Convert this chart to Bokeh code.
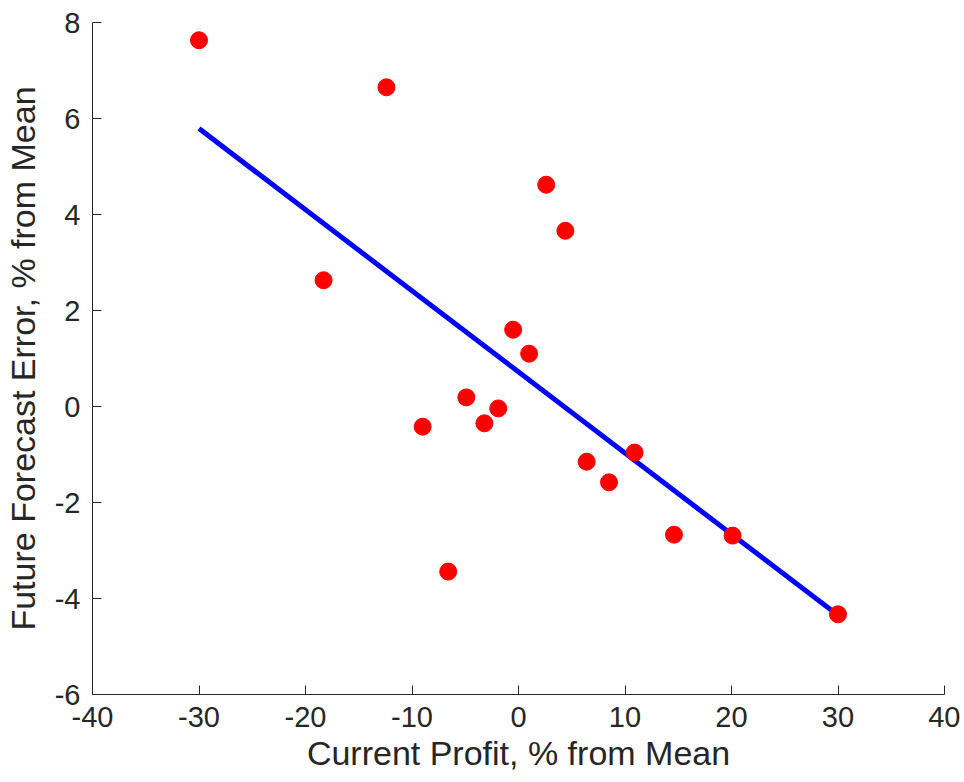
from bokeh.plotting import figure
from bokeh.models import FixedTicker, Range1d
from bokeh.embed import file_html
from bokeh.resources import INLINE

# Data
profit = [-30.0, -12.4, -18.3, 2.6, 4.4, -0.5, 1.0, -4.9, -1.9, -3.2, -9.0, -6.6, 6.4, 8.5, 10.9, 14.6, 20.1, 30.0]
error = [7.63, 6.65, 2.63, 4.62, 3.66, 1.60, 1.10, 0.19, -0.04, -0.35, -0.42, -3.44, -1.15, -1.58, -0.96, -2.67, -2.69, -4.33]
fit_x = [-30.0, 30.0]
fit_y = [5.79, -4.35]
x_ticks = [-40, -30, -20, -10, 0, 10, 20, 30, 40]
y_ticks = [-6, -4, -2, 0, 2, 4, 6, 8]

p = figure(width=960, height=778, output_backend="svg", toolbar_location=None,
           x_range=Range1d(-40, 40), y_range=Range1d(-6, 8),
           min_border_left=92, min_border_right=16, min_border_top=22, min_border_bottom=84)
p.outline_line_color = None
p.xgrid.visible = False
p.ygrid.visible = False

p.line(fit_x, fit_y, line_color="#0000FF", line_width=5)
p.scatter(profit, error, size=17, fill_color="#FF0000", line_color="#FF0000")

for ax in (p.xaxis[0], p.yaxis[0]):
    ax.axis_line_color = "#262626"
    ax.major_tick_line_color = "#262626"
    ax.major_tick_in = 9
    ax.major_tick_out = 0
    ax.minor_tick_line_color = None
    ax.major_label_text_font = "Liberation Sans"
    ax.major_label_text_font_size = "29px"
    ax.major_label_text_color = "#262626"
    ax.axis_label_text_font = "Liberation Sans"
    ax.axis_label_text_font_size = "34px"
    ax.axis_label_text_font_style = "normal"
    ax.axis_label_text_color = "#262626"

p.xaxis[0].ticker = FixedTicker(ticks=x_ticks)
p.yaxis[0].ticker = FixedTicker(ticks=y_ticks)
p.xaxis[0].major_label_overrides = {t: str(t) for t in x_ticks}
p.yaxis[0].major_label_overrides = {t: str(t) for t in y_ticks}
p.xaxis[0].axis_label = "Current Profit, % from Mean"
p.yaxis[0].axis_label = "Future Forecast Error, % from Mean"
p.xaxis[0].major_label_standoff = 12
p.yaxis[0].major_label_standoff = 12
p.xaxis[0].axis_label_standoff = 4
p.yaxis[0].axis_label_standoff = 10

open("out.html", "w").write(file_html(p, INLINE))
